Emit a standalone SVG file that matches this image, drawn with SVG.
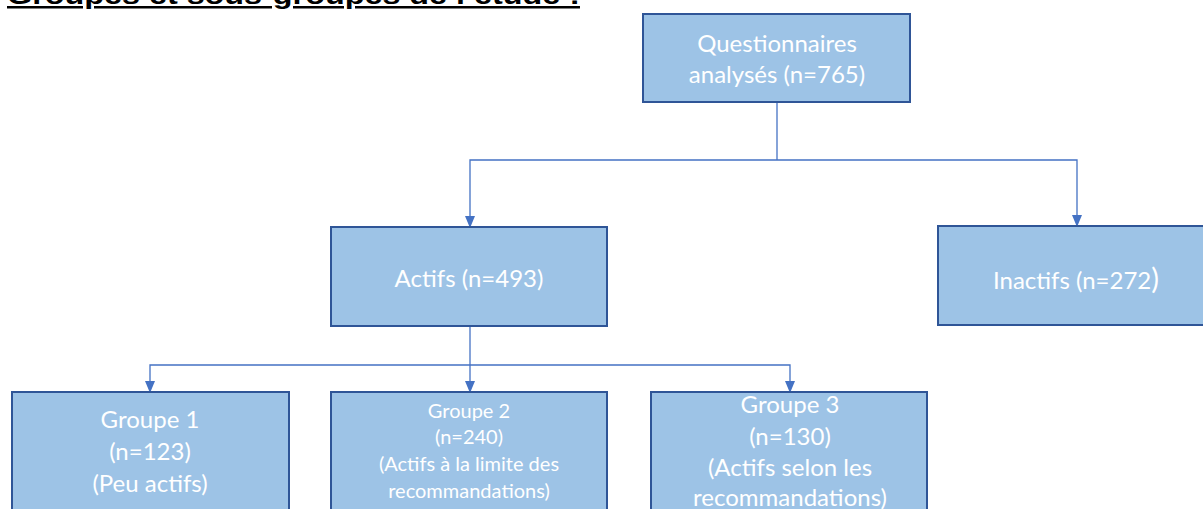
<svg xmlns="http://www.w3.org/2000/svg" width="1203" height="509" viewBox="0 0 1203 509">
<style>
.box{fill:#9DC3E6;stroke:#2F5597;stroke-width:2}
.t{fill:#ffffff;font-family:Lato,"Open Sans",sans-serif;text-anchor:middle;font-size:24px}
.s{font-size:20px}
.c{fill:none;stroke:#4472C4;stroke-width:1.3}
.title{font-family:"Liberation Sans",Arial,sans-serif;font-weight:bold;font-size:25px;fill:#000;text-decoration:underline}
</style>
<defs>
<marker id="arr" markerWidth="12" markerHeight="12" refX="11" refY="6" orient="auto" markerUnits="userSpaceOnUse" viewBox="0 0 12 12">
<path d="M0,1 L12,6 L0,11 Z" fill="#4472C4"/>
</marker>
</defs>
<text class="title" x="7" y="4" textLength="573" lengthAdjust="spacingAndGlyphs">Groupes et sous-groupes de l’étude :</text>
<g id="connectors">
<path class="c" d="M777,102 V160"/>
<path class="c" d="M777,160 H470 V227" marker-end="url(#arr)"/>
<path class="c" d="M777,160 H1077 V226" marker-end="url(#arr)"/>
<path class="c" d="M470,326 V392" marker-end="url(#arr)"/>
<path class="c" d="M470,365 H150 V392" marker-end="url(#arr)"/>
<path class="c" d="M470,365 H790 V392" marker-end="url(#arr)"/>
</g>
<g id="n-questionnaires">
<rect class="box" x="643" y="14" width="267" height="88"/>
<text class="t" x="777" y="52">Questionnaires</text>
<text class="t" x="777" y="83">analysés (n=765)</text>
</g>
<g id="n-actifs">
<rect class="box" x="331" y="227" width="276" height="99"/>
<text class="t" x="469" y="287">Actifs (n=493)</text>
</g>
<g id="n-inactifs">
<rect class="box" x="938" y="226" width="268" height="99"/>
<text class="t" x="1076" y="289">Inactifs (n=272<tspan font-size="29">)</tspan></text>
</g>
<g id="n-groupe1">
<rect class="box" x="12" y="392" width="277" height="130"/>
<text class="t" x="150" y="428">Groupe 1</text>
<text class="t" x="150" y="460">(n=123)</text>
<text class="t" x="150" y="492">(Peu actifs)</text>
</g>
<g id="n-groupe2">
<rect class="box" x="331" y="392" width="276" height="130"/>
<text class="t s" x="469" y="418">Groupe 2</text>
<text class="t s" x="469" y="444">(n=240)</text>
<text class="t s" x="469" y="471">(Actifs à la limite des</text>
<text class="t s" x="469" y="498">recommandations)</text>
</g>
<g id="n-groupe3">
<rect class="box" x="651" y="392" width="276" height="130"/>
<text class="t" x="790" y="413">Groupe 3</text>
<text class="t" x="790" y="445">(n=130)</text>
<text class="t" x="790" y="476">(Actifs selon les</text>
<text class="t" x="790" y="506">recommandations)</text>
</g>
</svg>
